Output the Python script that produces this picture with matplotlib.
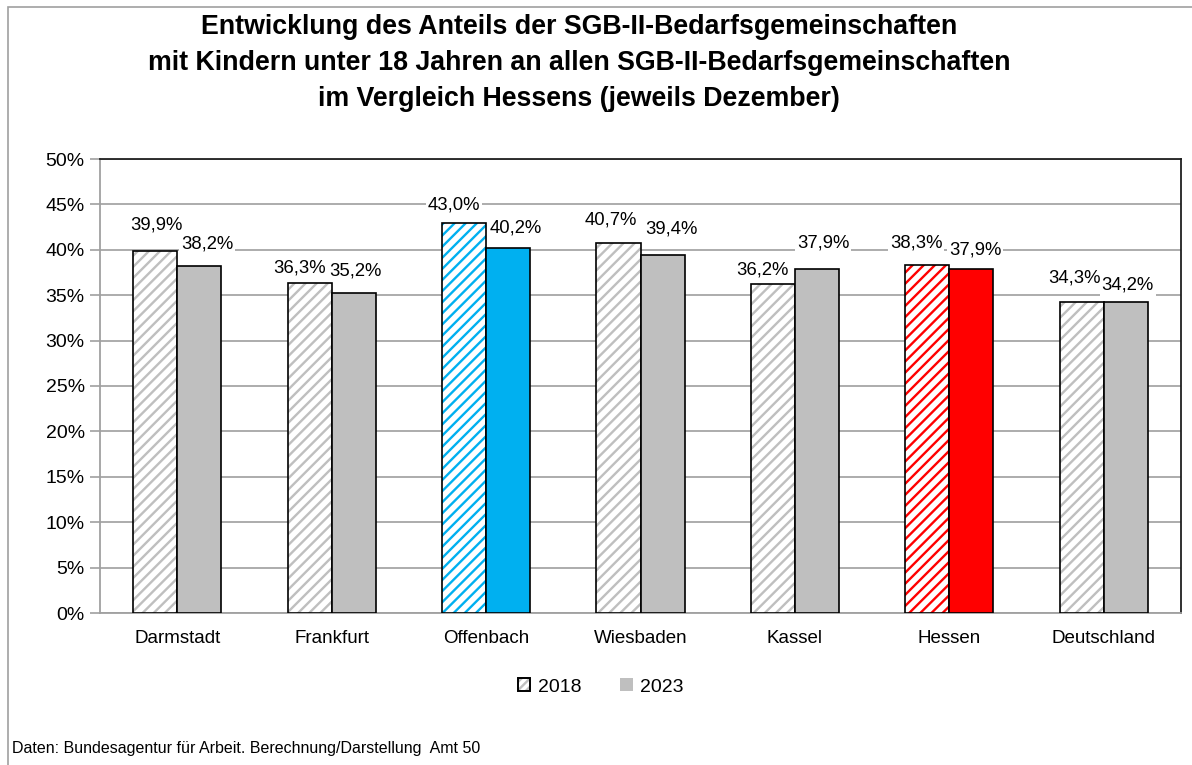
import matplotlib
matplotlib.use("Agg")
import matplotlib.pyplot as plt
from matplotlib.patches import Patch, Rectangle
import numpy as np

# data
regions = ["Darmstadt", "Frankfurt", "Offenbach", "Wiesbaden", "Kassel", "Hessen", "Deutschland"]
share_2018 = [39.9, 36.3, 43.0, 40.7, 36.2, 38.3, 34.3]
share_2023 = [38.2, 35.2, 40.2, 39.4, 37.9, 37.9, 34.2]
years = ["2018", "2023"]
y_ticks = [0, 5, 10, 15, 20, 25, 30, 35, 40, 45, 50]

title = ("Entwicklung des Anteils der SGB-II-Bedarfsgemeinschaften\n"
         "mit Kindern unter 18 Jahren an allen SGB-II-Bedarfsgemeinschaften\n"
         "im Vergleich Hessens (jeweils Dezember)")
source = "Daten: Bundesagentur für Arbeit. Berechnung/Darstellung  Amt 50"

# colours per region (Offenbach blue, Hessen red, others grey)
GREY = "#BFBFBF"
colours = [GREY, GREY, "#00B0F0", GREY, GREY, "#FF0000", GREY]

# label nudges in pixels (Excel moves labels a bit to avoid overlaps)
off_2018 = [(1, 26), (-10, 15), (-10, 18), (-8, 23), (-11, 14), (-11, 22), (-7, 24)]
off_2023 = [(8, 22), (2, 22), (8, 20), (9, 26), (6, 26), (4, 19), (2, 17)]

plt.rcParams["font.family"] = ["Liberation Sans", "DejaVu Sans"]
plt.rcParams["hatch.linewidth"] = 1.7

fig = plt.figure(figsize=(11.92, 7.65), dpi=100)
ax = fig.add_axes([100 / 1192, 1 - 613 / 765, 1081 / 1192, 454 / 765])

x = np.arange(len(regions))
w = 0.285

for i in range(len(regions)):
    ax.bar(x[i] - w / 2, share_2018[i], w, facecolor="white", edgecolor=colours[i],
           hatch="///", linewidth=0, zorder=3)
    ax.bar(x[i] - w / 2, share_2018[i], w, fill=False, edgecolor="black",
           linewidth=1.2, zorder=4)
    ax.bar(x[i] + w / 2, share_2023[i], w, facecolor=colours[i], edgecolor="black",
           linewidth=1.2, zorder=4)

def pct(v):
    return f"{v:.1f}%".replace(".", ",")

for i in range(len(regions)):
    for xx, v, off in ((x[i] - w / 2, share_2018[i], off_2018[i]),
                       (x[i] + w / 2, share_2023[i], off_2023[i])):
        ax.annotate(pct(v), (xx, v), xytext=off, textcoords="offset pixels",
                    ha="center", va="center", fontsize=13.3, zorder=5,
                    bbox=dict(boxstyle="square,pad=0.1", fc="white", ec="none"))

ax.set_xlim(-0.5, len(regions) - 0.5)
ax.set_ylim(0, 50)
ax.set_yticks(y_ticks)
ax.set_yticklabels([f"{t}%" for t in y_ticks])
ax.set_xticks(x)
ax.set_xticklabels(regions)
ax.tick_params(axis="y", labelsize=14, length=7, width=1.2, color="#A0A0A0", pad=4)
ax.tick_params(axis="x", labelsize=13.5, length=0, pad=12)
ax.yaxis.grid(True, color="#A6A6A6", linewidth=1.3, zorder=0)
ax.set_axisbelow(True)
for side in ("left", "bottom"):
    ax.spines[side].set_color("#A0A0A0")
    ax.spines[side].set_linewidth(1.3)
for side in ("top", "right"):
    ax.spines[side].set_color("#202020")
    ax.spines[side].set_linewidth(1.3)

h_hatch = Patch(facecolor="white", edgecolor=GREY, hatch="////", linewidth=0)
h_edge = Patch(fill=False, edgecolor="black", linewidth=1.4)
h_2023 = Patch(facecolor=GREY, edgecolor="none")
fig.legend([(h_hatch, h_edge), h_2023], years, loc="center",
           bbox_to_anchor=(601 / 1192, 1 - 687 / 765), ncol=2, frameon=False,
           fontsize=14, handlelength=0.62, handleheight=0.62, handletextpad=0.4,
           columnspacing=2.0)

fig.text(579 / 1192, 1 - 63 / 765, title, ha="center", va="center",
         fontsize=19.3, fontweight="bold", linespacing=1.5)
fig.text(12 / 1192, 1 - 748 / 765, source, ha="left", va="center", fontsize=11.5)

# thin grey frame around the whole chart area
fig.patches.append(Rectangle((8 / 1192, -0.05), 1.2, 1 - 7 / 765 + 0.05,
                             transform=fig.transFigure, fill=False,
                             edgecolor="#A0A0A0", linewidth=1.2))

fig.savefig("out.png", dpi=100)
